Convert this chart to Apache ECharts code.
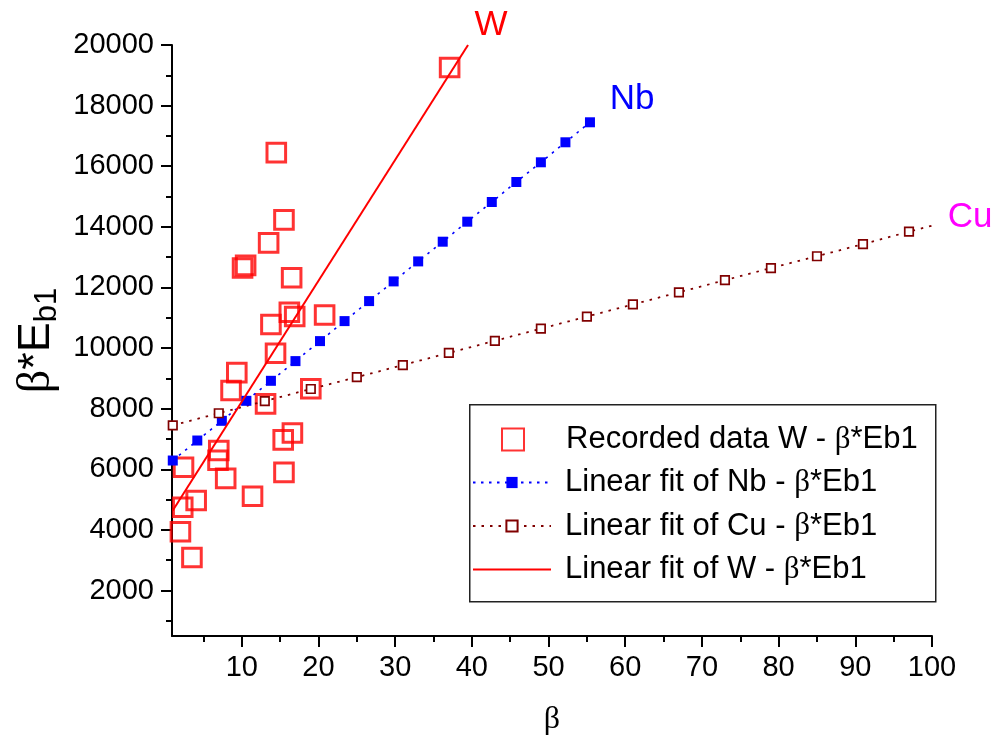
<!DOCTYPE html>
<html>
<head>
<meta charset="utf-8">
<script src="https://cdn.jsdelivr.net/npm/echarts@6/dist/echarts.min.js"></script>
<style>
  html, body { margin: 0; padding: 0; background: #ffffff; }
  #chart { width: 994px; height: 739px; }
</style>
</head>
<body>
<div id="chart"></div>
<script>
// Recorded W data points (β, β*Eb1)
const wBeta = [37.1, 14.5, 15.5, 13.5, 10.5, 10.1, 16.5, 16.2, 16.9, 20.8, 13.8, 14.4, 9.35, 8.6,
               13.1, 19.0, 16.6, 15.4, 7.0, 6.9, 2.4, 15.5, 7.9, 11.4, 4.05, 2.3, 2.0, 3.5];
const wBetaEb1 = [19260, 16450, 14230, 13470, 12730, 12640, 12320, 11180, 11040, 11090, 10780, 9830, 9190, 8600,
                  8160, 8660, 7200, 6970, 6620, 6300, 6070, 5900, 5700, 5110, 4970, 4750, 3940, 3090];

// Linear fit of Nb
const nbBeta = [1, 4.2, 7.4, 10.6, 13.8, 17, 20.2, 23.4, 26.6, 29.8, 33, 36.2, 39.4, 42.6, 45.8, 49, 52.2, 55.4];
const nbBetaEb1 = [6290, 6950, 7600, 8260, 8920, 9570, 10230, 10890, 11550, 12200, 12860, 13510, 14170, 14820,
                   15480, 16130, 16790, 17450];

// Linear fit of Cu (last entry is the end of the fit line, drawn without a marker)
const cuBeta = [1, 7, 13, 19, 25, 31, 37, 43, 49, 55, 61, 67, 73, 79, 85, 91, 97, 100];
const cuBetaEb1 = [7450, 7850, 8250, 8650, 9040, 9440, 9840, 10240, 10640, 11040, 11440, 11840, 12240,
                   12640, 13030, 13430, 13840, 14040];

// Linear fit of W
const wFitBeta = [1, 39.5];
const wFitBetaEb1 = [4640, 20000];

// Axis ticks
const xMajorTicks = [10, 20, 30, 40, 50, 60, 70, 80, 90, 100];
const xMinorTicks = [5, 15, 25, 35, 45, 55, 65, 75, 85, 95];
const yMajorTicks = [2000, 4000, 6000, 8000, 10000, 12000, 14000, 16000, 18000, 20000];
const yMinorTicks = [1000, 3000, 5000, 7000, 9000, 11000, 13000, 15000, 17000, 19000];

const nameRecorded = 'Recorded data W - β*Eb1';
const nameNb = 'Linear fit of Nb - β*Eb1';
const nameCu = 'Linear fit of Cu - β*Eb1';
const nameW = 'Linear fit of W - β*Eb1';

const SANS = 'Arial, "Liberation Sans", sans-serif';
const SERIF = '"Times New Roman", "Liberation Serif", serif';

const zip = (xs, ys) => xs.map((x, i) => [x, ys[i]]);

const X_MIN = 0.9, X_MAX = 100, Y_MIN = 500, Y_MAX = 20000;

const axisLineStyle = { color: '#000', width: 2 };
const plainNumber = v => String(v);

function xAxisDef(ticks, len, labels) {
  return {
    type: 'value', min: X_MIN, max: X_MAX, position: 'bottom',
    axisLine: { show: labels, lineStyle: axisLineStyle, onZero: false },
    axisTick: { show: true, inside: false, length: len, customValues: ticks, lineStyle: { color: '#000', width: 2 } },
    axisLabel: labels
      ? { show: true, customValues: ticks, fontSize: 29, color: '#000', fontFamily: SANS, margin: 17, formatter: plainNumber }
      : { show: false },
    splitLine: { show: false }
  };
}
function yAxisDef(ticks, len, labels) {
  return {
    type: 'value', min: Y_MIN, max: Y_MAX, position: 'left',
    axisLine: { show: labels, lineStyle: axisLineStyle, onZero: false },
    axisTick: { show: true, inside: false, length: len, customValues: ticks, lineStyle: { color: '#000', width: 2 } },
    axisLabel: labels
      ? { show: true, customValues: ticks, fontSize: 29, color: '#000', fontFamily: SANS, margin: 18, formatter: plainNumber }
      : { show: false },
    splitLine: { show: false }
  };
}

const xMain = xAxisDef(xMajorTicks, 11, true);
xMain.name = 'β';
xMain.nameLocation = 'middle';
xMain.nameGap = 68;
xMain.nameTextStyle = { fontFamily: SERIF, fontSize: 32, color: '#000' };

const yMain = yAxisDef(yMajorTicks, 11, true);
yMain.name = '{s|β}{n|*E}{sub|b1}';
yMain.nameLocation = 'middle';
yMain.nameRotate = 90;
yMain.nameGap = 104;
yMain.nameTextStyle = {
  color: '#000',
  rich: {
    s: { fontFamily: SERIF, fontSize: 46, lineHeight: 52, verticalAlign: 'middle', color: '#000' },
    n: { fontFamily: SANS, fontSize: 45, lineHeight: 52, verticalAlign: 'middle', color: '#000' },
    sub: { fontFamily: SANS, fontSize: 31, lineHeight: 22, verticalAlign: 'bottom', color: '#000' }
  }
};

const legendText = {
  fontSize: 31, color: '#000', fontFamily: SANS, padding: [0, 0, 0, 9],
  rich: { s: { fontFamily: SERIF, fontSize: 31, color: '#000' } }
};
const legendFormatter = name => name.replace('β', '{s|β}');

const cuData = zip(cuBeta, cuBetaEb1).map((p, i) =>
  i === cuBeta.length - 1 ? { value: p, symbol: 'none' } : { value: p });

const chart = echarts.init(document.getElementById('chart'), null, { renderer: 'canvas' });
chart.setOption({
  animation: false,
  backgroundColor: '#ffffff',
  grid: { left: 172, right: 62, top: 45, bottom: 103, containLabel: false, outerBoundsMode: 'none' },
  xAxis: [xMain, xAxisDef(xMinorTicks, 6, false)],
  yAxis: [yMain, yAxisDef(yMinorTicks, 6, false)],
  legend: [
    {
      data: [{ name: nameRecorded, icon: 'path://M0,0H22V22H0Z' }],
      orient: 'vertical', left: 501, top: 424, padding: 0,
      itemWidth: 78, itemHeight: 22, selectedMode: false,
      textStyle: legendText, formatter: legendFormatter
    },
    {
      data: [nameNb, nameCu, { name: nameW, icon: 'path://M0,0H78V2H0Z' }],
      orient: 'vertical', left: 472, top: 467, padding: 0, itemGap: 12.5,
      itemWidth: 78, itemHeight: 14, selectedMode: false,
      textStyle: legendText, formatter: legendFormatter
    }
  ],
  graphic: [
    { type: 'rect', left: 469, top: 404, z: 0,
      shape: { width: 466, height: 197 },
      style: { fill: 'rgba(0,0,0,0)', stroke: '#222', lineWidth: 1.5 } },
    { type: 'text', x: 491, y: 25, z: 100,
      style: { text: 'W', fill: '#ff0000', font: '35px ' + SANS, textAlign: 'center', textVerticalAlign: 'middle' } },
    { type: 'text', x: 632, y: 99, z: 100,
      style: { text: 'Nb', fill: '#0000ff', font: '35px ' + SANS, textAlign: 'center', textVerticalAlign: 'middle' } },
    { type: 'text', x: 970, y: 217, z: 100,
      style: { text: 'Cu', fill: '#ff00ff', font: '35px ' + SANS, textAlign: 'center', textVerticalAlign: 'middle' } }
  ],
  series: [
    {
      name: nameRecorded, type: 'scatter', xAxisIndex: 0, yAxisIndex: 0,
      data: zip(wBeta, wBetaEb1),
      symbol: 'rect', symbolSize: 18.6,
      itemStyle: { color: 'rgba(0,0,0,0)', borderColor: '#ff0000', borderWidth: 3 },
      z: 2
    },
    {
      name: nameNb, type: 'line', xAxisIndex: 0, yAxisIndex: 0,
      data: zip(nbBeta, nbBetaEb1),
      symbol: 'rect', symbolSize: 10, showSymbol: true,
      itemStyle: { color: '#0000ff' },
      lineStyle: { color: '#0000ff', width: 1.6, type: [2.5, 5.5] },
      z: 3
    },
    {
      name: nameCu, type: 'line', xAxisIndex: 0, yAxisIndex: 0,
      data: cuData,
      symbol: 'rect', symbolSize: 8.5, showSymbol: true,
      itemStyle: { color: '#ffffff', borderColor: '#800000', borderWidth: 1.7 },
      lineStyle: { color: '#800000', width: 1.8, type: [2.5, 6] },
      z: 3
    },
    {
      name: nameW, type: 'line', xAxisIndex: 0, yAxisIndex: 0,
      data: zip(wFitBeta, wFitBetaEb1),
      symbol: 'none',
      itemStyle: { color: '#ff0000' },
      lineStyle: { color: '#ff0000', width: 2 },
      z: 4
    }
  ]
});
</script>
</body>
</html>
